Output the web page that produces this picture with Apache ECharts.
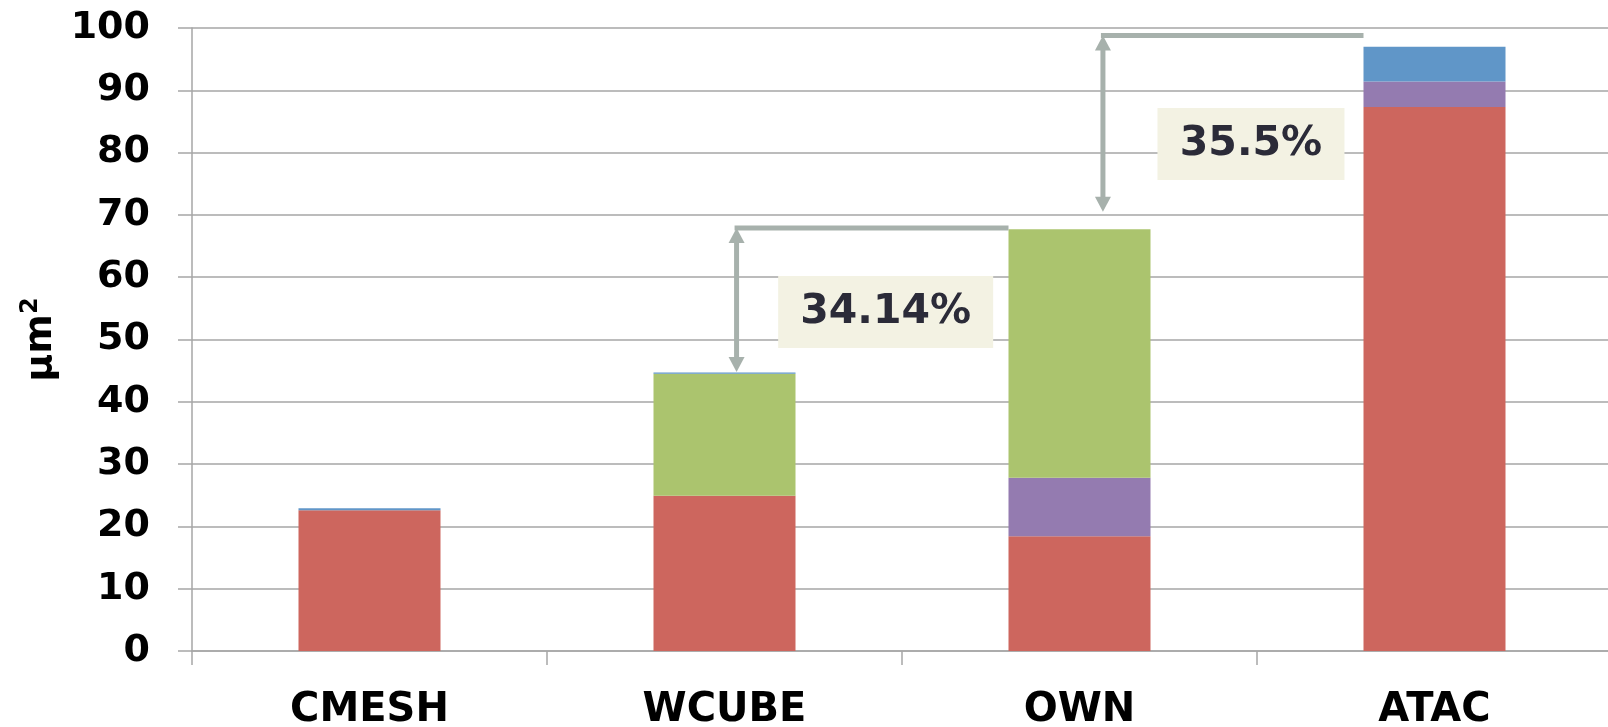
<!DOCTYPE html>
<html>
<head>
<meta charset="utf-8">
<script src="https://cdn.jsdelivr.net/npm/echarts@6/dist/echarts.min.js"></script>
<style>
  html, body { margin: 0; padding: 0; background: #fff; }
  #chart { width: 1608px; height: 727px; }
</style>
</head>
<body>
<div id="chart"></div>
<script>
const categories = ['CMESH', 'WCUBE', 'OWN', 'ATAC'];
const redPart = [22.6, 24.9, 18.4, 87.3];
const purplePart = [0, 0, 9.4, 4.1];
const greenPart = [0, 19.6, 39.9, 0];
const bluePart = [0.3, 0.2, 0, 5.6];
const yTicks = { min: 0, max: 100, interval: 10 };

// annotation arrows: [x (category units), top value, bottom value, x where the bracket line ends]
const arrows = [
  [1.034, 67.9, 44.8, 1.8],
  [2.066, 98.8, 70.5, 2.8]
];
// annotation labels: [x center, y center, text, box width px]
const notes = [
  [1.454, 54.4, '34.14%', 215],
  [2.483, 81.4, '35.5%', 187]
];

const font = '"DejaVu Sans", Verdana, sans-serif';
const gray = '#a6a6a6';
const arrowColor = '#a7b1ac';

const chart = echarts.init(document.getElementById('chart'));

function bar(name, data, color) {
  return {
    name: name,
    type: 'bar',
    stack: 'area',
    data: data,
    barWidth: '40%',
    itemStyle: { color: color },
    silent: true
  };
}

const option = {
  animation: false,
  grid: { left: 192, right: -4, top: 28, bottom: 76, outerBoundsMode: 'none' },
  xAxis: [{
    type: 'category',
    data: categories,
    axisLine: { lineStyle: { color: gray, width: 1.5 } },
    axisTick: { show: true, length: 14, lineStyle: { color: gray, width: 1.5 } },
    axisLabel: {
      color: '#000', fontFamily: font, fontWeight: 'bold', fontSize: 40,
      lineHeight: 40, margin: 40
    }
  }, {
    type: 'value',
    min: -0.5,
    max: 3.5,
    show: false
  }],
  yAxis: {
    type: 'value',
    min: yTicks.min,
    max: yTicks.max,
    interval: yTicks.interval,
    name: '{a|μm}{b|2}',
    nameLocation: 'middle',
    nameRotate: 90,
    nameGap: 125,
    nameTextStyle: {
      rich: {
        a: { color: '#000', fontFamily: font, fontWeight: 'bold', fontSize: 38, lineHeight: 44 },
        b: { color: '#000', fontFamily: font, fontWeight: 'bold', fontSize: 24, lineHeight: 24, verticalAlign: 'top' }
      }
    },
    axisLine: { show: true, onZero: false, lineStyle: { color: gray, width: 1.5 } },
    axisTick: { show: true, length: 14, lineStyle: { color: gray, width: 1.5 } },
    splitLine: { lineStyle: { color: gray, width: 1.5 } },
    axisLabel: {
      color: '#000', fontFamily: font, fontWeight: 'bold', fontSize: 38, margin: 42,
      padding: [6, 0, 0, 0]
    }
  },
  series: [
    bar('part 1', redPart, '#cd665e'),
    bar('part 2', purplePart, '#947bb0'),
    bar('part 3', greenPart, '#abc46e'),
    bar('part 4', bluePart, '#6096c8'),
    {
      type: 'custom',
      xAxisIndex: 1,
      silent: true,
      z: 5,
      data: arrows,
      renderItem: function (params, api) {
        const top = api.coord([api.value(0), api.value(1)]);
        const bot = api.coord([api.value(0), api.value(2)]);
        const end = api.coord([api.value(3), api.value(1)]);
        const hw = 8, hh = 15;
        const st = { stroke: arrowColor, lineWidth: 5 };
        return {
          type: 'group',
          children: [
            { type: 'line', shape: { x1: top[0], y1: top[1] + hh - 2, x2: bot[0], y2: bot[1] - hh + 2 }, style: st },
            { type: 'line', shape: { x1: top[0] - 2, y1: top[1], x2: end[0], y2: end[1] }, style: st },
            { type: 'polygon', shape: { points: [[top[0], top[1]], [top[0] - hw, top[1] + hh], [top[0] + hw, top[1] + hh]] }, style: { fill: arrowColor } },
            { type: 'polygon', shape: { points: [[bot[0], bot[1]], [bot[0] - hw, bot[1] - hh], [bot[0] + hw, bot[1] - hh]] }, style: { fill: arrowColor } }
          ]
        };
      }
    },
    {
      type: 'custom',
      xAxisIndex: 1,
      silent: true,
      z: 6,
      data: notes,
      renderItem: function (params, api) {
        const c = api.coord([api.value(0), api.value(1)]);
        const w = notes[params.dataIndex][3], h = 72;
        return {
          type: 'group',
          children: [
            { type: 'rect', shape: { x: c[0] - w / 2, y: c[1] - h / 2, width: w, height: h }, style: { fill: '#f3f2e3' } },
            {
              type: 'text',
              style: {
                x: c[0], y: c[1], text: notes[params.dataIndex][2],
                fill: '#2b2b38', font: 'bold 41px ' + font,
                align: 'center', verticalAlign: 'middle'
              }
            }
          ]
        };
      }
    }
  ]
};

chart.setOption(option);
</script>
</body>
</html>
